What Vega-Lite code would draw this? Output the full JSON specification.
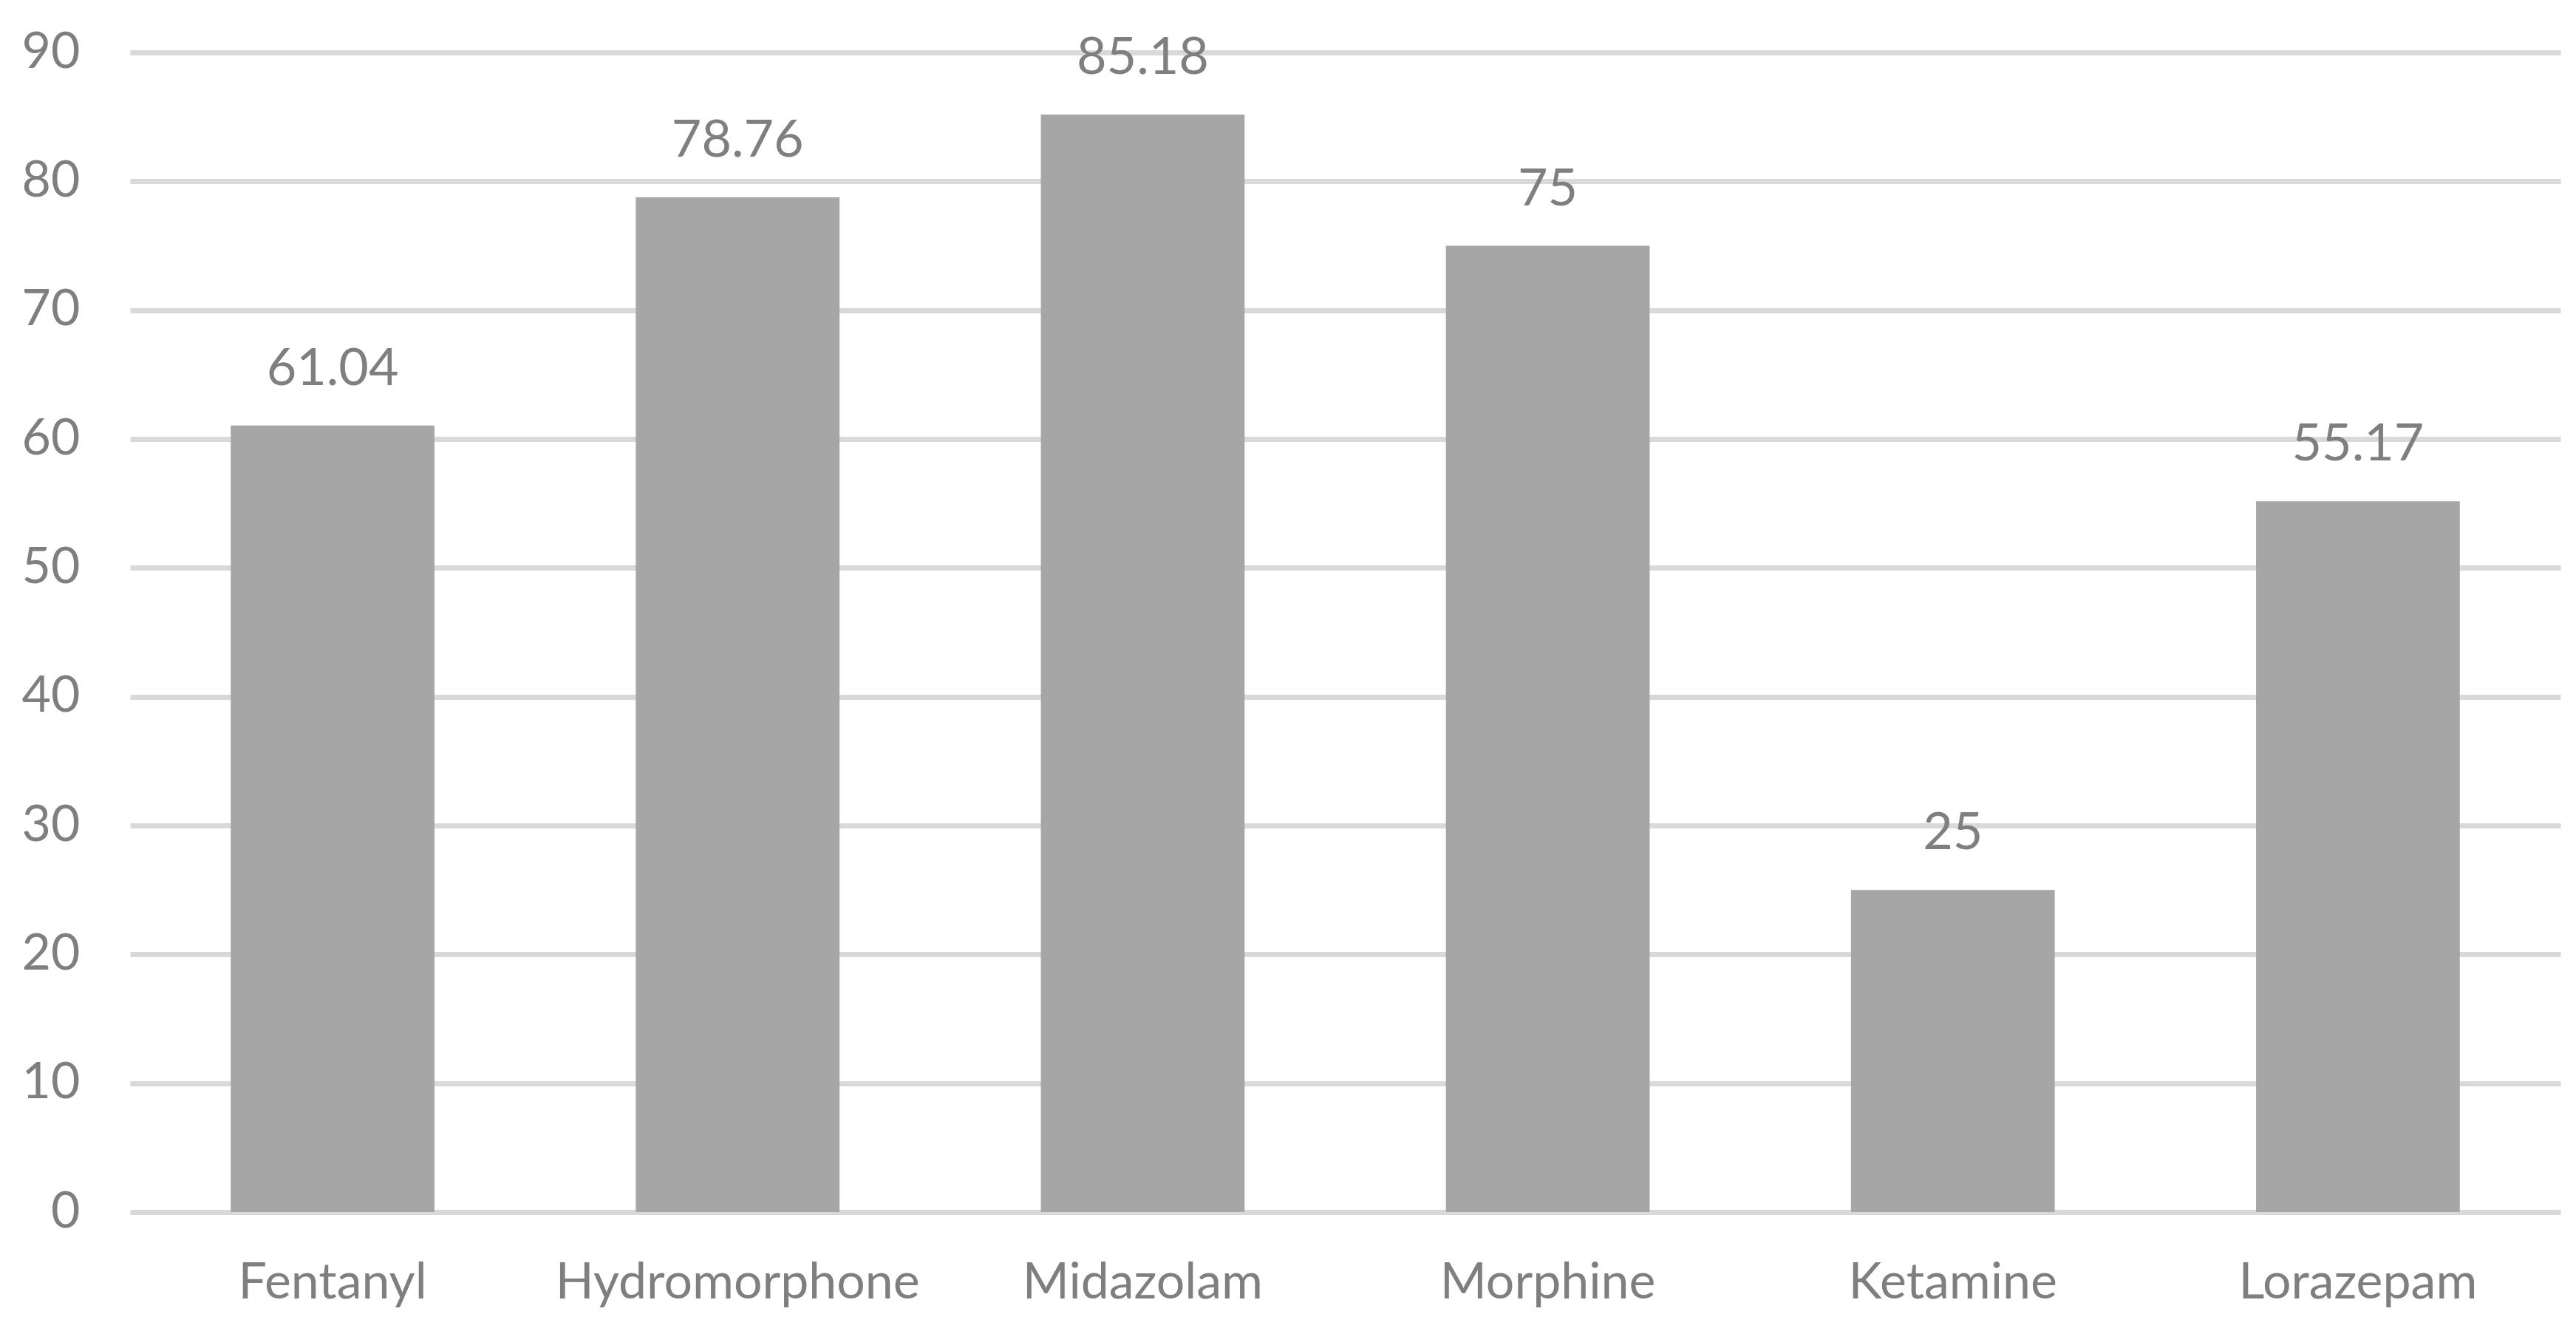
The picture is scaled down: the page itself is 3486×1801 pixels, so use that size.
{
  "$schema": "https://vega.github.io/schema/vega-lite/v6.json",
  "autosize": {"type": "none"},
  "padding": {"left": 176, "top": 71, "right": 21, "bottom": 161},
  "width": 3289,
  "height": 1569,
  "background": "white",
  "config": {"view": {"stroke": null}, "font": "Lato"},
  "data": {"values": [
    {"drug": "Fentanyl", "value": 61.04},
    {"drug": "Hydromorphone", "value": 78.76},
    {"drug": "Midazolam", "value": 85.18},
    {"drug": "Morphine", "value": 75},
    {"drug": "Ketamine", "value": 25},
    {"drug": "Lorazepam", "value": 55.17}
  ]},
  "encoding": {
    "x": {"field": "drug", "type": "nominal", "sort": null,
      "scale": {"paddingInner": 0.497, "paddingOuter": 0.2485},
      "axis": {"title": null, "domain": false, "ticks": false, "labelAngle": 0, "labelLimit": 0, "labelFont": "Lato", "labelFontSize": 68, "labelColor": "#7f7f7f", "labelPadding": 62}},
    "y": {"field": "value", "type": "quantitative",
      "scale": {"domain": [0, 90], "nice": false},
      "axis": {"title": null, "domain": false, "ticks": false, "values": [0,10,20,30,40,50,60,70,80,90], "grid": true, "gridColor": "#d9d9d9", "gridWidth": 7, "labelFont": "Lato", "labelFontSize": 68, "labelColor": "#7f7f7f", "labelPadding": 68}}
  },
  "layer": [
    {"mark": {"type": "bar", "color": "#a6a6a6"}},
    {"mark": {"type": "text", "baseline": "alphabetic", "dy": -55, "fontSize": 70, "font": "Lato", "color": "#7f7f7f"},
     "encoding": {"text": {"field": "value", "type": "quantitative"}}}
  ]
}
